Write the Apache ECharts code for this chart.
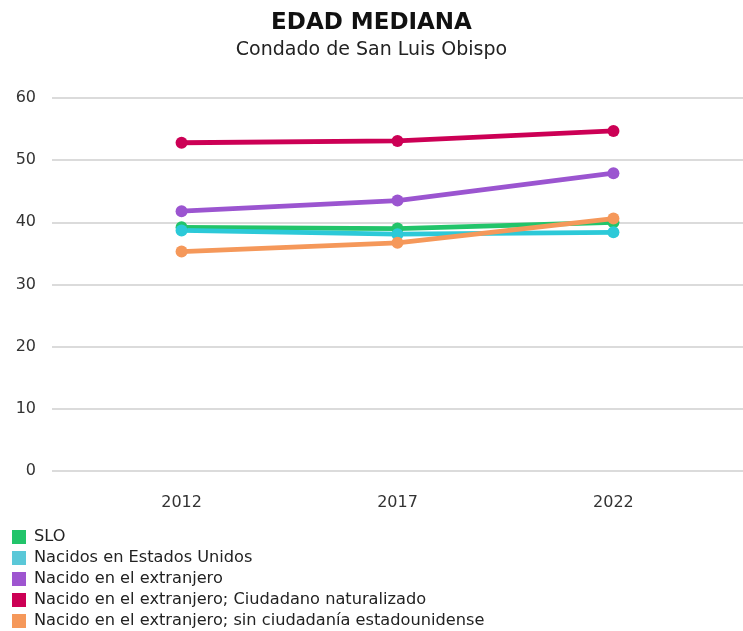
<!DOCTYPE html>
<html>
<head>
<meta charset="utf-8">
<script src="https://cdn.jsdelivr.net/npm/echarts@6/dist/echarts.min.js"></script>
<style>
  html, body { margin: 0; padding: 0; background: #fff; }
  #chart { width: 743px; height: 631px; }
</style>
</head>
<body>
<div id="chart"></div>
<script>
var years = [2012, 2017, 2022];
var slo = [39.2, 39.0, 40.0];
var nacidosEEUU = [38.7, 38.1, 38.4];
var extranjero = [41.8, 43.5, 47.9];
var naturalizado = [52.8, 53.1, 54.7];
var sinCiudadania = [35.3, 36.7, 40.6];
var yTicks = [0, 10, 20, 30, 40, 50, 60];

var names = [
  "SLO",
  "Nacidos en Estados Unidos",
  "Nacido en el extranjero",
  "Nacido en el extranjero; Ciudadano naturalizado",
  "Nacido en el extranjero; sin ciudadanía estadounidense"
];
var colors = ["#22c46a", "#2cc9d8", "#9b55d0", "#cc0055", "#f5985a"];
var legendColors = ["#22c46a", "#5ac8d8", "#9e55d0", "#cc0055", "#f5985a"];
var values = [slo, nacidosEEUU, extranjero, naturalizado, sinCiudadania];

var FONT = "DejaVu Sans";

function pairs(arr) {
  return years.map(function (y, i) { return [y, arr[i]]; });
}

var chart = echarts.init(document.getElementById("chart"), null, { renderer: "canvas" });

var series = names.map(function (n, i) {
  return {
    name: n,
    type: "line",
    data: pairs(values[i]),
    color: colors[i],
    symbol: "circle",
    symbolSize: 12,
    lineStyle: { width: 4.8 },
    z: [2, 2, 3, 4, 5][i]
  };
});

chart.setOption({
  animation: false,
  backgroundColor: "#fff",
  title: {
    text: "EDAD MEDIANA",
    subtext: "Condado de San Luis Obispo",
    left: "center",
    top: 7,
    itemGap: 6,
    textStyle: { fontFamily: FONT, fontWeight: "bold", fontSize: 23, color: "#111" },
    subtextStyle: { fontFamily: FONT, fontSize: 19, color: "#222" }
  },
  legend: {
    orient: "vertical",
    left: 7,
    top: 524,
    height: 115,
    itemWidth: 14,
    itemHeight: 14,
    itemGap: 5,
    icon: "rect",
    textStyle: { fontFamily: FONT, fontSize: 16.2, color: "#222", padding: [0, 0, 0, 3] },
    data: names.map(function (n, i) {
      return { name: n, itemStyle: { color: legendColors[i] } };
    })
  },
  grid: { left: 52, right: 0, top: 98, bottom: 160, containLabel: false },
  xAxis: {
    type: "value",
    min: 2009,
    max: 2025,
    axisLine: { show: false },
    axisTick: { show: false },
    splitLine: { show: false },
    axisLabel: {
      customValues: years,
      formatter: function (v) { return String(v); },
      margin: 24,
      fontFamily: FONT,
      fontSize: 16,
      color: "#333"
    }
  },
  yAxis: {
    type: "value",
    min: 0,
    max: 60,
    interval: 10,
    axisLine: { show: false },
    axisTick: { show: false },
    axisLabel: {
      customValues: yTicks,
      margin: 16,
      fontFamily: FONT,
      fontSize: 16,
      color: "#333"
    },
    splitLine: { lineStyle: { color: "#cfcfcf", width: 1.5 } }
  },
  series: series
});
</script>
</body>
</html>
